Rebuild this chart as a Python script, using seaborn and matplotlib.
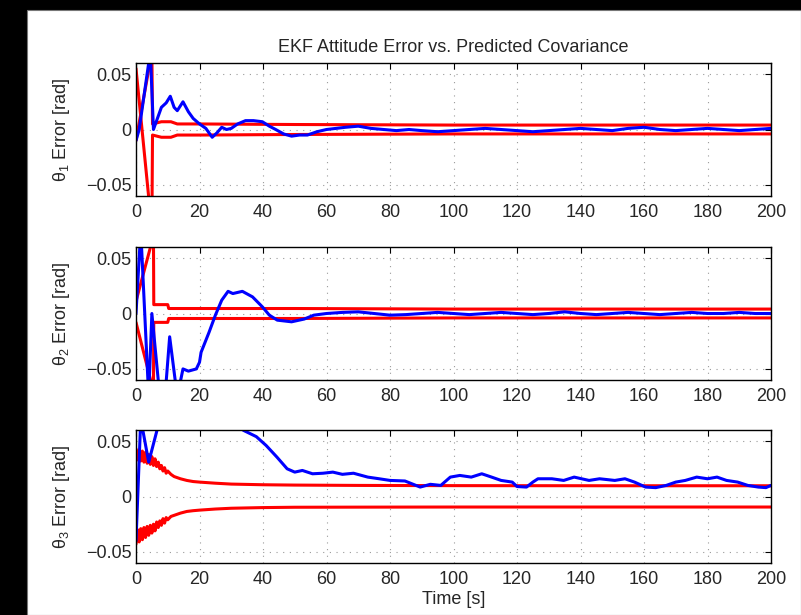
import numpy as np
import matplotlib
matplotlib.use("Agg")
import matplotlib.pyplot as plt
import seaborn as sns
from matplotlib.patches import Rectangle

# --- data (time in s, errors / bounds in rad) ---

# theta_1
t1_err = [0, 1, 4.5, 5.5, 6.5, 8, 9.5, 10.8, 12, 13, 14.8, 16.5, 18, 20, 22, 24, 25.5,
          27, 28.5, 30, 32, 34.5, 37, 39.8, 42, 44, 46.5, 49, 51.5, 54, 57, 60, 63, 66,
          70, 74, 78, 82, 86, 90, 95, 100, 105, 110, 115, 120, 125, 130, 135, 140, 145,
          150, 155, 160, 165, 170, 175, 180, 185, 190, 195, 200]
e1 = [-0.01, 0.0, 0.07, 0.0, 0.008, 0.02, 0.024, 0.03, 0.02, 0.017, 0.025, 0.016, 0.01,
      0.005, 0.001, -0.007, -0.003, 0.002, 0.0, 0.001, 0.005, 0.008, 0.008, 0.007, 0.003,
      0.0, -0.004, -0.006, -0.005, -0.005, -0.002, 0.0, 0.001, 0.002, 0.003, 0.001, 0.0,
      -0.001, 0.0, -0.001, -0.002, -0.001, 0.0, 0.001, 0.0, -0.001, -0.002, -0.001, 0.0,
      0.001, 0.0, -0.001, 0.001, 0.002, 0.0, -0.001, 0.0, 0.001, 0.0, -0.001, 0.0, 0.001]
t1_cov = [0, 5, 5.2, 8, 11, 13, 20, 50, 100, 200]
up1 = [-0.01, 0.07, 0.005, 0.007, 0.007, 0.005, 0.005, 0.0045, 0.004, 0.004]
lo1 = [0.055, -0.09, -0.005, -0.007, -0.007, -0.005, -0.005, -0.0045, -0.004, -0.004]

# theta_2
t2_err = [0, 1.5, 4, 5, 7.5, 9, 10.6, 13, 14.8, 16.5, 19, 20, 20.5, 23, 25, 27, 29, 30.5,
          33.5, 36.7, 39.8, 42, 44.5, 49, 53, 56, 60, 65, 70, 75, 80, 85, 90, 95, 100, 105,
          110, 115, 120, 125, 130, 135, 140, 145, 150, 155, 160, 165, 170, 175, 180, 185,
          190, 195, 200]
e2 = [0.0, 0.075, -0.075, 0.0, -0.075, -0.08, -0.021, -0.075, -0.05, -0.052, -0.05, -0.044,
      -0.035, -0.017, -0.0015, 0.012, 0.02, 0.018, 0.02, 0.015, 0.006, -0.0015, -0.006,
      -0.0075, -0.005, -0.0015, 0.0, 0.001, 0.0015, 0.0, -0.0015, -0.001, 0.0, 0.001, 0.0,
      -0.001, 0.0, 0.001, 0.0, -0.001, 0.0, 0.0015, 0.0, -0.001, 0.0, 0.001, 0.0, -0.001,
      0.0, 0.001, 0.0, 0.0, 0.001, 0.0, 0.0]
t2_cov = [0, 5.5, 5.6, 10, 10.3, 50, 100, 200]
up2 = [0.011, 0.07, 0.008, 0.008, 0.0045, 0.0045, 0.004, 0.004]
lo2 = [-0.008, -0.07, -0.008, -0.008, -0.0045, -0.0045, -0.004, -0.004]

# theta_3
t3_err = [0, 1.5, 4, 8, 15, 25, 33.9, 37.9, 41, 44.4, 47.6, 50, 52.4, 55.6, 58.9, 62, 65,
          68.5, 73, 76.6, 80, 84.7, 89.5, 92.7, 96, 99, 102, 105.6, 108.9, 112, 115, 118.5,
          120, 123, 125, 126.6, 131, 134.7, 138, 142.7, 146, 150.8, 154, 157, 160.5, 163.7,
          167, 170, 173, 176.6, 180, 183, 186, 189.5, 192.7, 196, 198.4, 200]
e3 = [-0.04, 0.07, 0.031, 0.075, 0.09, 0.08, 0.0596, 0.054, 0.046, 0.0355, 0.025, 0.022,
      0.0235, 0.0205, 0.021, 0.022, 0.020, 0.021, 0.0175, 0.016, 0.0145, 0.014, 0.0085,
      0.011, 0.010, 0.0175, 0.019, 0.0175, 0.0205, 0.0175, 0.0145, 0.013, 0.009, 0.0085,
      0.013, 0.016, 0.016, 0.0145, 0.0175, 0.0145, 0.016, 0.0145, 0.016, 0.013, 0.0085,
      0.008, 0.010, 0.013, 0.0145, 0.0175, 0.016, 0.0175, 0.0145, 0.013, 0.010, 0.0085,
      0.008, 0.010]
t3_cov = [0, 0.5, 1, 1.5, 2, 2.5, 3, 3.5, 4, 4.5, 5, 5.5, 6, 6.5, 7, 7.5, 8, 8.5, 9, 9.5,
          10, 11, 12, 14, 16, 18, 20, 25, 30, 40, 50, 70, 100, 150, 200]
up3 = [0.043, 0.033, 0.042, 0.032, 0.041, 0.031, 0.040, 0.030, 0.038, 0.029, 0.036, 0.028,
       0.034, 0.027, 0.031, 0.025, 0.028, 0.023, 0.026, 0.021, 0.023, 0.020, 0.018, 0.016,
       0.0145, 0.0135, 0.013, 0.012, 0.0112, 0.0106, 0.0103, 0.010, 0.0098, 0.0097, 0.0097]
lo3 = [-0.043, -0.030, -0.041, -0.029, -0.039, -0.028, -0.037, -0.027, -0.035, -0.026,
       -0.033, -0.025, -0.031, -0.023, -0.028, -0.022, -0.026, -0.020, -0.024, -0.019,
       -0.021, -0.018, -0.017, -0.015, -0.0135, -0.0128, -0.0123, -0.0113, -0.0106,
       -0.0100, -0.0097, -0.0096, -0.0095, -0.0095, -0.0095]

panels = [
    (t1_err, e1, t1_cov, up1, lo1, r'$\theta_1$ Error [rad]'),
    (t2_err, e2, t2_cov, up2, lo2, r'$\theta_2$ Error [rad]'),
    (t3_err, e3, t3_cov, up3, lo3, r'$\theta_3$ Error [rad]'),
]

x_ticks = [0, 20, 40, 60, 80, 100, 120, 140, 160, 180, 200]
y_ticks = [-0.05, 0, 0.05]
y_tick_labels = ['\u22120.05', '0', '0.05']

# --- style ---
sns.set_theme(style='white')
plt.rcParams['font.family'] = ['Liberation Sans', 'DejaVu Sans']
plt.rcParams['mathtext.fontset'] = 'custom'
plt.rcParams['mathtext.rm'] = 'Liberation Sans'
plt.rcParams['mathtext.it'] = 'Liberation Sans'
plt.rcParams['mathtext.default'] = 'regular'

fig = plt.figure(figsize=(8.01, 6.15), dpi=100, facecolor='black')
# white page area (reference has a black strip on the left and top)
fig.add_artist(Rectangle((27 / 801, 0), 1 - 27 / 801, (615 - 10) / 615,
                         transform=fig.transFigure, facecolor='white',
                         edgecolor='#777777', lw=0.8, zorder=0))

ax_left, ax_w, ax_h = 136 / 801, 635 / 801, 133 / 615
tops = [63, 247, 430]

axes = []
for top, (te, ev, tc, up, lo, ylab) in zip(tops, panels):
    ax = fig.add_axes([ax_left, 1 - (top + 133) / 615, ax_w, ax_h])
    ax.set_facecolor('white')
    sns.lineplot(x=tc, y=up, ax=ax, color='red', lw=2.2, sort=False, estimator=None)
    sns.lineplot(x=tc, y=lo, ax=ax, color='red', lw=2.2, sort=False, estimator=None)
    sns.lineplot(x=te, y=ev, ax=ax, color='blue', lw=2.2, sort=False, estimator=None)
    ax.set_xlim(0, 200)
    ax.set_ylim(-0.06, 0.06)
    ax.set_xticks(x_ticks)
    ax.set_yticks(y_ticks)
    ax.set_yticklabels(y_tick_labels)
    ax.grid(True, color='#9a9a9a', linestyle=(0, (1, 5)), lw=0.8)
    ax.tick_params(direction='in', top=True, right=True, length=4, width=0.8,
                   color='black', labelsize=13)
    ax.tick_params(axis='x', pad=6)
    ax.tick_params(axis='y', pad=3)
    for sp in ax.spines.values():
        sp.set_visible(True)
        sp.set_color('black')
        sp.set_linewidth(1.0)
    ax.set_ylabel(ylab, fontsize=13, labelpad=10)
    ax.set_xlabel('')
    axes.append(ax)

axes[0].set_title('EKF Attitude Error vs. Predicted Covariance', fontsize=13, pad=8)
axes[2].set_xlabel('Time [s]', fontsize=13, labelpad=2)

fig.savefig('out.png', dpi=100, facecolor=fig.get_facecolor())
